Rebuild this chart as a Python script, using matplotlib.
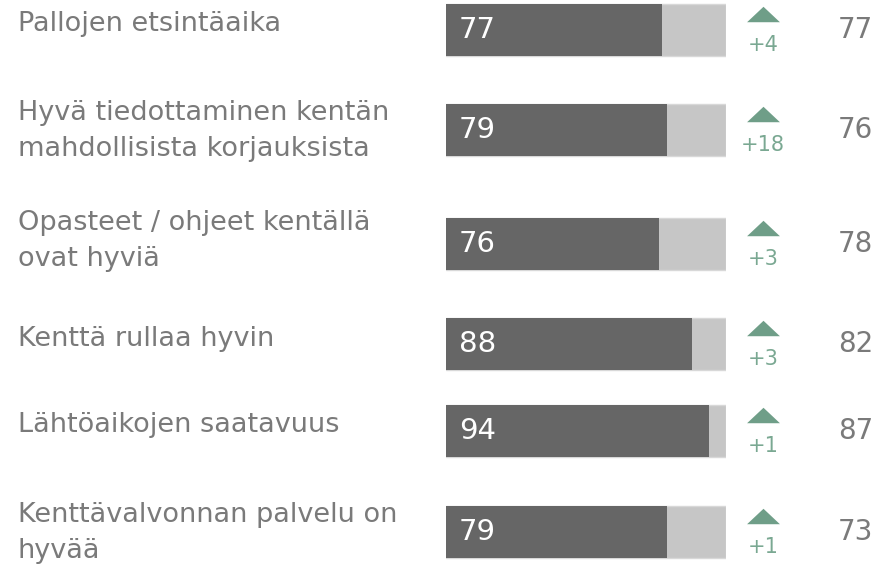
import matplotlib.pyplot as plt
import matplotlib.transforms as mtransforms
import numpy as np

plt.rcParams['font.family'] = ['DejaVu Sans']

# Daten
labels = [
    "Pallojen etsintäaika",
    "Hyvä tiedottaminen kentän\nmahdollisista korjauksista",
    "Opasteet / ohjeet kentällä\novat hyviä",
    "Kenttä rullaa hyvin",
    "Lähtöaikojen saatavuus",
    "Kenttävalvonnan palvelu on\nhyvää",
]
scores = [77, 79, 76, 88, 94, 79]
changes = [4, 18, 3, 3, 1, 1]
previous = [77, 76, 78, 82, 87, 73]

# Layout (Pixel, von oben)
W, H = 875, 569
bar_tops = [4, 104, 218, 318, 405, 506]
bar_h = 52
label_base = [31, 120, 230, 346, 432, 522]
line_gap = 36

fig = plt.figure(figsize=(W / 100, H / 100), dpi=100)
ax = fig.add_axes([446 / W, 0, 280 / W, 1])
ax.set_xlim(0, 100)
ax.set_ylim(H, 0)
ax.axis('off')

centers = np.array(bar_tops) + bar_h / 2

# Balken: Hintergrund 100 %, dann Wert
ax.barh(centers, [100] * len(scores), height=bar_h, color='#c6c6c6',
        edgecolor='#d8d8d8', linewidth=1)
ax.barh(centers, scores, height=bar_h, color='#666666')

trans = mtransforms.blended_transform_factory(fig.transFigure, ax.transData)

# flaches Dreieck als Marker
tri = [(-1, -0.47), (1, -0.47), (0, 0.47)]

for i, c in enumerate(centers):
    # Beschriftung links
    for j, line in enumerate(labels[i].split('\n')):
        ax.text(18 / W, label_base[i] + j * line_gap, line, transform=trans,
                fontsize=19.5, color='#7a7a7a', va='baseline', ha='left')
    # Wert im Balken
    ax.text(4.6, c, str(scores[i]), fontsize=21, color='white',
            va='center', ha='left')
    # Veränderung
    ax.scatter([763 / W], [c - 16], marker=tri, s=560, color='#6f9e88',
               transform=trans, linewidths=0, clip_on=False)
    ax.text(763 / W, c + 15, f"+{changes[i]}", transform=trans, fontsize=15,
            color='#7aa892', va='center', ha='center')
    # Vorjahr
    ax.text(838 / W, c, str(previous[i]), transform=trans, fontsize=20,
            color='#7a7a7a', va='center', ha='left')

fig.savefig('out.png', dpi=100)
